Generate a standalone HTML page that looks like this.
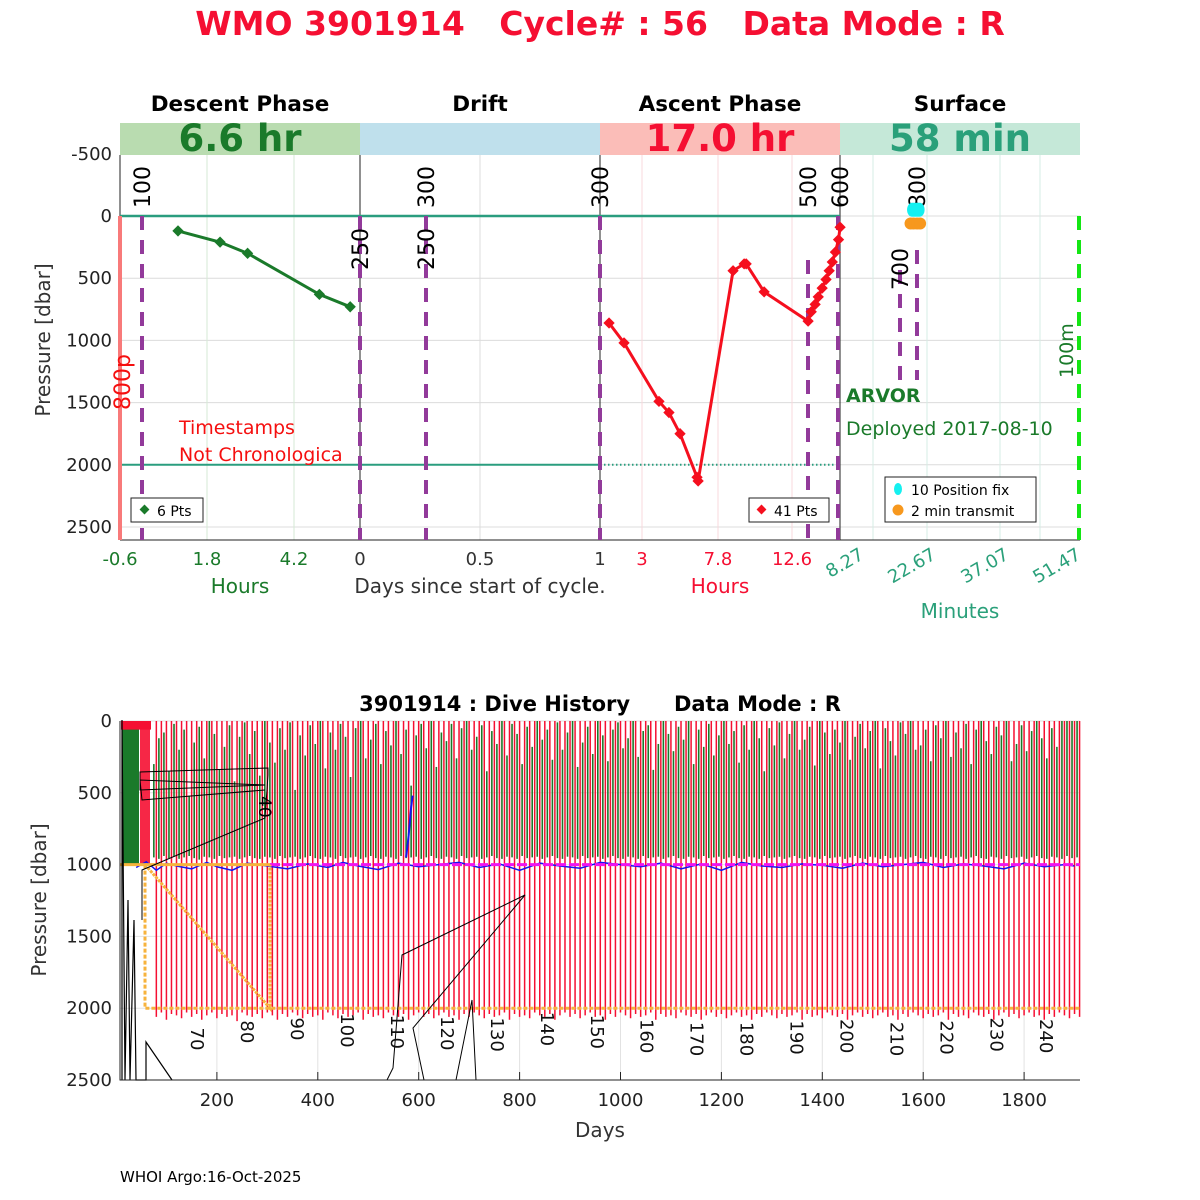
<!DOCTYPE html>
<html><head><meta charset="utf-8">
<style>
html,body{margin:0;padding:0;background:#fff;}
svg{display:block;font-family:"DejaVu Sans","Liberation Sans",sans-serif;}
</style></head>
<body>
<svg id="svg" width="1200" height="1200" viewBox="0 0 1200 1200" xmlns="http://www.w3.org/2000/svg">
<text x="600" y="35" text-anchor="middle" font-size="33" font-weight="bold" fill="#f50f32" style="white-space:pre" xml:space="preserve">WMO 3901914   Cycle# : 56   Data Mode : R</text>
<g id="topPanel"></g>
<g id="botPanel"></g>
<text x="120" y="1182" font-size="15" fill="#000">WHOI Argo:16-Oct-2025</text>
</svg>
<script>
// ---------- top panel data ----------
const descentHours = [1.0, 2.16, 2.92, 4.9, 5.75];
const descentPres = [120, 210, 300, 630, 730];
const ascentHours = [0.89, 1.85, 4.09, 4.73, 5.44, 6.53, 6.6, 8.84, 9.55, 9.68, 10.83, 13.65, 13.85, 14.1, 14.3, 14.55, 14.8, 15.0, 15.2, 15.4, 15.6, 15.7];
const ascentPres = [860, 1020, 1490, 1580, 1750, 2100, 2130, 440, 385, 385, 610, 845, 770, 710, 650, 580, 510, 440, 370, 290, 190, 90];
const fixMinutes = [19.6, 19.9, 20.2, 20.5, 20.8, 21.1];
const fixPres = [-50, -50, -50, -50, -50, -50];
const txMinutes = [19.3, 19.9, 20.6, 21.2];
const txPres = [60, 60, 60, 60];
const pTicks = [-500, 0, 500, 1000, 1500, 2000, 2500];

// ---------- bottom panel data ----------
const cycleDays = [75,85,95,105,115,125,135,145,155,165,175,185,195,205,215,225,235,245,255,265,275,285,295,305,315,325,335,345,355,365,375,385,395,405,415,425,435,445,455,465,475,485,495,505,515,525,535,545,555,565,575,585,595,605,615,625,635,645,655,665,675,685,695,705,715,725,735,745,755,765,775,785,795,805,815,825,835,845,855,865,875,885,895,905,915,925,935,945,955,965,975,985,995,1005,1015,1025,1035,1045,1055,1065,1075,1085,1095,1105,1115,1125,1135,1145,1155,1165,1175,1185,1195,1205,1215,1225,1235,1245,1255,1265,1275,1285,1295,1305,1315,1325,1335,1345,1355,1365,1375,1385,1395,1405,1415,1425,1435,1445,1455,1465,1475,1485,1495,1505,1515,1525,1535,1545,1555,1565,1575,1585,1595,1605,1615,1625,1635,1645,1655,1665,1675,1685,1695,1705,1715,1725,1735,1745,1755,1765,1775,1785,1795,1805,1815,1825,1835,1845,1855,1865,1875,1885,1895,1905];
const greenTop = [300,120,80,350,20,200,60,520,150,40,260,0,90,340,180,30,420,110,10,230,70,380,0,150,290,50,200,10,480,100,240,30,160,0,330,80,200,20,110,390,50,0,260,130,20,300,70,170,0,230,60,450,100,20,190,0,320,80,140,20,260,50,0,200,110,30,350,70,160,0,240,20,90,300,40,180,0,130,60,270,10,200,80,0,320,150,40,230,0,100,280,60,10,190,120,0,250,70,30,340,160,0,90,210,40,130,0,300,60,180,20,240,100,0,160,70,290,30,200,0,120,350,50,170,10,260,90,0,200,130,40,310,0,80,230,60,150,0,270,110,20,190,70,0,330,50,140,240,10,90,0,200,170,60,280,30,120,0,250,80,190,20,300,60,0,140,230,40,100,0,280,160,30,210,70,0,120,260,50,180];
const greenBottom = [950,960,940,955,945,960,950,940,955,965,945,950,960,940,955,950,945,960,950,940,955,960,945,950,960,940,955,950,945,960,950,940,955,960,945,950,960,940,955,950,945,960,950,940,955,960,945,950,960,940,955,950,945,960,950,940,955,960,945,950,960,940,955,950,945,960,950,940,955,960,945,950,960,940,955,950,945,960,950,940,955,960,945,950,960,940,955,950,945,960,950,940,955,960,945,950,960,940,955,950,945,960,950,940,955,960,945,950,960,940,955,950,945,960,950,940,955,960,945,950,960,940,955,950,945,960,950,940,955,960,945,950,960,940,955,950,945,960,950,940,955,960,945,950,960,940,955,950,945,960,950,940,955,960,945,950,960,940,955,950,945,960,950,940,955,960,945,950,960,940,955,950,945,960,950,940,955,960,945,950,960,940,955,950];
const redTop = [0,0,0,0,0,0,0,0,0,0,0,0,0,0,0,0,0,0,0,0,0,0,0,0,0,0,0,0,0,0,0,0,0,0,0,0,0,0,0,0,0,0,0,0,0,0,0,0,0,0,0,0,0,0,0,0,0,0,0,0,0,0,0,0,0,0,0,0,0,0,0,0,0,0,0,0,0,0,0,0,0,0,0,0,0,0,0,0,0,0,0,0,0,0,0,0,0,0,0,0,0,0,0,0,0,0,0,0,0,0,0,0,0,0,0,0,0,0,0,0,0,0,0,0,0,0,0,0,0,0,0,0,0,0,0,0,0,0,0,0,0,0,0,0,0,0,0,0,0,0,0,0,0,0,0,0,0,0,0,0,0,0,0,0,0,0,0,0,0,0,0,0,0,0,0,0,0,0,0,0,0,0,0,0];
const redBottom = [2060,2030,2080,2040,2050,2070,2030,2060,2040,2080,2050,2030,2070,2040,2060,2050,2090,2030,2050,2060,2040,2070,2030,2050,2080,2040,2060,2030,2050,2070,2040,2060,2050,2080,2030,2050,2070,2040,2060,2050,2030,2080,2040,2060,2050,2070,2030,2050,2060,2040,2080,2050,2030,2060,2040,2070,2050,2030,2060,2050,2080,2040,2060,2030,2050,2070,2040,2060,2050,2030,2080,2040,2060,2050,2070,2030,2050,2060,2040,2080,2050,2030,2060,2040,2070,2050,2030,2060,2050,2080,2040,2060,2030,2050,2070,2040,2060,2050,2030,2080,2040,2060,2050,2070,2030,2050,2060,2040,2080,2050,2030,2060,2040,2070,2050,2030,2060,2050,2080,2040,2060,2030,2050,2070,2040,2060,2050,2030,2080,2040,2060,2050,2070,2030,2050,2060,2040,2080,2050,2030,2060,2040,2070,2050,2030,2060,2050,2080,2040,2060,2030,2050,2070,2040,2060,2050,2030,2080,2040,2060,2050,2070,2030,2050,2060,2040,2080,2050,2030,2060,2040,2070,2050,2030,2060,2050,2080,2040,2060,2030,2050,2070,2040,2060];
const labelCycles = [70,80,90,100,110,120,130,140,150,160,170,180,190,200,210,220,230,240];
const labelDays = [161,260,359,458,557,656,755,854,953,1052,1151,1250,1349,1448,1547,1646,1745,1843];
const labelPres = [2100,2050,2030,2000,2010,2020,2030,1990,2010,2040,2060,2060,2050,2040,2060,2050,2030,2040];
const dayTicks = [200,400,600,800,1000,1200,1400,1600,1800];
const presTicks = [0,500,1000,1500,2000,2500];
const driftDays = [40,60,80,100,120,150,180,200,230,260,300,340,380,420,450,480,520,560,600,640,680,720,760,800,840,880,920,960,1000,1040,1080,1120,1160,1200,1240,1280,1320,1360,1400,1440,1480,1520,1560,1600,1640,1680,1720,1760,1800,1840,1880,1900];
const driftPres = [1020,980,1040,990,1010,1030,985,1015,1040,990,1010,1030,995,1020,985,1010,1035,990,1015,1000,985,1020,995,1040,990,1010,1025,985,1000,1015,990,1030,995,1040,985,1010,1020,995,1005,1025,990,1015,1000,985,1020,995,1010,1030,990,1015,1000,1010];

const NS="http://www.w3.org/2000/svg";
function mk(parent, tag, attrs, text){
  const e=document.createElementNS(NS,tag);
  for(const k in attrs) e.setAttribute(k, attrs[k]);
  if(text!==undefined) e.textContent=text;
  parent.appendChild(e); return e;
}
const tp=document.getElementById('topPanel'), bp=document.getElementById('botPanel');

const py = p => 216 + p*0.1244;
const dX = h => 120 + (h+0.6)*36.25;
const aX = h => 600 + (h-0.31)*15.6;
const sX = m => 855 + (m-8.27)*(72.5/14.4);

const heads=[["Descent Phase",240,"#b9dcb0","6.6 hr","#1a7a2a"],["Drift",480,"#bfe0ec","",""],["Ascent Phase",720,"#fbbdb8","17.0 hr","#f50f32"],["Surface",960,"#c5e8d8","58 min","#2aa07a"]];
heads.forEach((h,i)=>{
  let t=mk(tp,'text',{x:h[1],y:111,'text-anchor':'middle','font-size':21.5,'font-weight':'bold'},h[0]);
  
  
  let r=mk(tp,'rect',{x:120+i*240,y:123,width:240,height:32,fill:h[2]});
  
  
  if(h[3]){let d=mk(tp,'text',{x:h[1],y:151,'text-anchor':'middle','font-size':37,'font-weight':'bold',fill:h[4]},h[3]);
    
    }
});
pTicks.forEach(p=>{
  if(p>=0){let g=mk(tp,'line',{x1:120,x2:1080,y1:py(p),y2:py(p),stroke:'#dcdcdc','stroke-width':1});
  
  }
  let t=mk(tp,'text',{x:112,y:py(p)+6,'text-anchor':'end','font-size':18,fill:'#222'},p);
  
  
});
[[207,'#d5ead5'],[294,'#d5ead5'],[480,'#dcdcdc'],[642,'#f8d8dc'],[718,'#f8d8dc'],[792,'#f8d8dc'],[873,'#d5ece4'],[927,'#d5ece4'],[1000,'#d5ece4'],[1040,'#d5ece4']].forEach(v=>{
  let g=mk(tp,'line',{x1:v[0],x2:v[0],y1:155,y2:540,stroke:v[1]});
  
  
});
[120,360,600,840].forEach(x=>{let l=mk(tp,'line',{x1:x,x2:x,y1:155,y2:540,stroke:'#222'});
  
  });
let xb=mk(tp,'line',{x1:120,x2:1080,y1:540,y2:540,stroke:'#222'});


let l0=mk(tp,'line',{x1:120,x2:840,y1:py(0),y2:py(0),stroke:'#2a9d7f','stroke-width':2.5});


let l2=mk(tp,'line',{x1:120,x2:600,y1:py(2000),y2:py(2000),stroke:'#2a9d7f','stroke-width':2});


let l3=mk(tp,'line',{x1:600,x2:840,y1:py(2000),y2:py(2000),stroke:'#2a9d7f','stroke-width':2,'stroke-dasharray':'1.5 2.5'});


let rb=mk(tp,'rect',{x:118,y:216,width:4,height:324,fill:'#f87a7a'});


[[142,216,540],[360,216,540],[426,216,540],[600,216,540],[808,260,540],[838,216,540],[900,270,380],[917,250,380]].forEach(m=>{
  let l=mk(tp,'line',{x1:m[0],x2:m[0],y1:m[1],y2:m[2],stroke:'#923a9a','stroke-width':4,'stroke-dasharray':'14 10'});
  
  
});
let gd=mk(tp,'line',{x1:1079,x2:1079,y1:216,y2:540,stroke:'#14e614','stroke-width':4,'stroke-dasharray':'14 10'});


[[142,208,"100"],[360,270,"250"],[426,208,"300"],[426,270,"250"],[600,208,"300"],[808,208,"500"],[840,208,"600"],[900,290,"700"],[917,208,"800"]].forEach(m=>{
  let t=mk(tp,'text',{x:0,y:0,'font-size':22,fill:'#000',transform:`translate(${m[0]+8},${m[1]}) rotate(-90)`},m[2]);
  
  
});
let t800=mk(tp,'text',{x:0,y:0,'font-size':22,fill:'#f50f0f',transform:'translate(130,410) rotate(-90)'},"800p");


let t100=mk(tp,'text',{x:0,y:0,'font-size':19,fill:'#1a7a2a',transform:'translate(1073,378) rotate(-90)'},"100m");


let dpts=descentHours.map((h,i)=>dX(h)+','+py(descentPres[i])).join(' ');
let dl=mk(tp,'polyline',{points:dpts,fill:'none',stroke:'#1a7a2a','stroke-width':3});


descentHours.forEach((h,i)=>{let c=mk(tp,'rect',{x:dX(h)-4,y:py(descentPres[i])-4,width:8,height:8,fill:'#1a7a2a',transform:`rotate(45 ${dX(h)} ${py(descentPres[i])})`});
  
  });
let apts=ascentHours.map((h,i)=>aX(h)+','+py(ascentPres[i])).join(' ');
let al=mk(tp,'polyline',{points:apts,fill:'none',stroke:'#f50f1e','stroke-width':3});


ascentHours.forEach((h,i)=>{let c=mk(tp,'rect',{x:aX(h)-4,y:py(ascentPres[i])-4,width:8,height:8,fill:'#f50f1e',transform:`rotate(45 ${aX(h)} ${py(ascentPres[i])})`});
  
  });
txMinutes.forEach((m,i)=>{let c=mk(tp,'circle',{cx:sX(m),cy:py(txPres[i]),r:6,fill:'#f7981d'});
  
  });
fixMinutes.forEach((m,i)=>{let c=mk(tp,'ellipse',{cx:sX(m),cy:py(fixPres[i]),rx:5,ry:7,fill:'#14f0f0'});
  
  });
[[179,434,"Timestamps",'#f50f0f',19,'normal'],[179,461,"Not Chronologica",'#f50f0f',19,'normal'],[846,402,"ARVOR",'#1a7a2a',19,'bold'],[846,435,"Deployed 2017-08-10",'#1a7a2a',19,'normal']].forEach(s=>{
  let t=mk(tp,'text',{x:s[0],y:s[1],'font-size':s[4],'font-weight':s[5],fill:s[3]},s[2]);
  
  
});
function legBox(x,y,w,h,name){let r=mk(tp,'rect',{x:x,y:y,width:w,height:h,fill:'#fff',stroke:'#222'});
  
  }
legBox(131,498,72,24,'descent-legend');
mk(tp,'rect',{x:141,y:506,width:7,height:7,fill:'#1a7a2a',transform:'rotate(45 144.5 509.5)'});
mk(tp,'text',{x:157,y:516,'font-size':14},"6 Pts");
legBox(749,498,80,24,'ascent-legend');
mk(tp,'rect',{x:758,y:506,width:7,height:7,fill:'#f50f1e',transform:'rotate(45 761.5 509.5)'});
mk(tp,'text',{x:774,y:516,'font-size':14},"41 Pts");
legBox(885,477,151,45,'surface-legend');
mk(tp,'ellipse',{cx:898,cy:489,rx:4,ry:6,fill:'#14f0f0'});
mk(tp,'text',{x:911,y:495,'font-size':14},"10 Position fix");
mk(tp,'circle',{cx:898,cy:510,r:5.5,fill:'#f7981d'});
mk(tp,'text',{x:911,y:516,'font-size':14},"2 min transmit");
[[120,"-0.6",'#1a7a2a'],[207,"1.8",'#1a7a2a'],[294,"4.2",'#1a7a2a'],[360,"0",'#333'],[480,"0.5",'#333'],[600,"1",'#333'],[642,"3",'#f50f32'],[718,"7.8",'#f50f32'],[792,"12.6",'#f50f32']].forEach(t=>{
  let e=mk(tp,'text',{x:t[0],y:565,'text-anchor':'middle','font-size':18,fill:t[2]},t[1]);
  
  
});
[[865,"8.27"],[937,"22.67"],[1010,"37.07"],[1082,"51.47"]].forEach(t=>{
  let e=mk(tp,'text',{x:0,y:0,'text-anchor':'end','font-size':18,fill:'#2aa07a',transform:`translate(${t[0]},${558}) rotate(-30)`},t[1]);
  
  
});
[[240,593,"Hours",'#1a7a2a'],[480,593,"Days since start of cycle.",'#333'],[720,593,"Hours",'#f50f32'],[960,618,"Minutes",'#2aa07a']].forEach(t=>{
  let e=mk(tp,'text',{x:t[0],y:t[1],'text-anchor':'middle','font-size':20,fill:t[3]},t[2]);
  
  
});
let yt=mk(tp,'text',{x:0,y:0,'text-anchor':'middle','font-size':20,fill:'#333',transform:'translate(50,340) rotate(-90)'},"Pressure [dbar]");



// ---------- bottom panel ----------
const bx = d => 116 + d*0.5045;
const by = p => 721 + p*0.1436;
presTicks.forEach(p=>{
  let g=mk(bp,'line',{x1:120,x2:1080,y1:by(p),y2:by(p),stroke:'#e2e2e2'});
  
  
  let t=mk(bp,'text',{x:112,y:by(p)+6,'text-anchor':'end','font-size':18,fill:'#222'},p);
  
  
});
dayTicks.forEach(d=>{
  let g=mk(bp,'line',{x1:bx(d),x2:bx(d),y1:721,y2:1080,stroke:'#e2e2e2'});
  
  
  mk(bp,'line',{x1:bx(d),x2:bx(d),y1:1072,y2:1080,stroke:'#222'});
  let t=mk(bp,'text',{x:bx(d),y:1106,'text-anchor':'middle','font-size':18,fill:'#222'},d);
  
  
});
let eb=mk(bp,'rect',{x:122,y:by(0),width:17,height:by(1000)-by(0),fill:'#1a7a2a'});


mk(bp,'rect',{x:121,y:by(0),width:30,height:by(60)-by(0),fill:'#f50f32'});
mk(bp,'rect',{x:140,y:by(0),width:10,height:by(1000)-by(0),fill:'#f50f32',opacity:0.9});
cycleDays.forEach((d,i)=>{
  let r=mk(bp,'line',{x1:bx(d)+2.5,x2:bx(d)+2.5,y1:by(redTop[i]||0),y2:by(redBottom[i]||2050),stroke:'#f50f32','stroke-width':1.5});
  
  
  let g=mk(bp,'line',{x1:bx(d),x2:bx(d),y1:by(greenTop[i]||0),y2:by(greenBottom[i]||950),stroke:'#1a7a2a','stroke-width':1.6});
  
  
});
let dr=mk(bp,'polyline',{points:driftDays.map((d,i)=>bx(d)+','+by(driftPres[i])).join(' '),fill:'none',stroke:'#1414f0','stroke-width':1.5});


let bs=mk(bp,'polyline',{points:`${bx(575)},${by(950)} ${bx(580)},${by(800)} ${bx(585)},${by(600)} ${bx(588)},${by(520)}`,fill:'none',stroke:'#1414f0','stroke-width':2});


let mg=mk(bp,'line',{x1:270,x2:1080,y1:by(1000),y2:by(1000),stroke:'#f014f0','stroke-width':3,'stroke-dasharray':'10 3'});


let o1=mk(bp,'polyline',{points:`120,${by(1000)} 270,${by(1000)}`,fill:'none',stroke:'#f7b33d','stroke-width':3});


let o2=mk(bp,'polyline',{points:`145,${by(1000)} 270,${by(2000)} 270,${by(1000)}`,fill:'none',stroke:'#f7b33d','stroke-width':3,'stroke-dasharray':'3 1'});


let o3=mk(bp,'polyline',{points:`145,${by(1000)} 145,${by(2000)} 1080,${by(2000)}`,fill:'none',stroke:'#f7b33d','stroke-width':3,'stroke-dasharray':'4 2'});


let bk=mk(bp,'polyline',{points:'142,920 142,870 265,818 268,775 268,768 140,772 140,790 265,785 140,780 142,800 265,790',fill:'none',stroke:'#000','stroke-width':1});


let bk2=mk(bp,'polyline',{points:'387,1080 393,1068 402,955 525,895 413,1028 424,1080 440,1080 456,1080 470,1010 472,1000 476,1080',fill:'none',stroke:'#000','stroke-width':1});


let bk3=mk(bp,'polyline',{points:'122,1080 122,720 125,1080 128,900 130,1080 134,920 136,1080 146,1080 146,1042 172,1080',fill:'none',stroke:'#000','stroke-width':1.2});


let t40=mk(bp,'text',{x:0,y:0,'font-size':17,transform:'translate(259,796) rotate(90)'},"40");


labelCycles.forEach((c,i)=>{
  let t=mk(bp,'text',{x:0,y:0,'font-size':18,fill:'#111',transform:`translate(${bx(labelDays[i])-6},${by(labelPres[i])+5}) rotate(90)`},c);
  
  
});
let ax=mk(bp,'polyline',{points:'120,721 120,1080 1080,1080',fill:'none',stroke:'#222'});


let btl=mk(bp,'text',{x:600,y:711,'text-anchor':'middle','font-size':21,'font-weight':'bold',style:'white-space:pre'},"3901914 : Dive History      Data Mode : R");


let bxT=mk(bp,'text',{x:600,y:1137,'text-anchor':'middle','font-size':20,fill:'#333'},"Days");


let byT=mk(bp,'text',{x:0,y:0,'text-anchor':'middle','font-size':20,fill:'#333',transform:'translate(46,900) rotate(-90)'},"Pressure [dbar]");


</script>
</body></html>
